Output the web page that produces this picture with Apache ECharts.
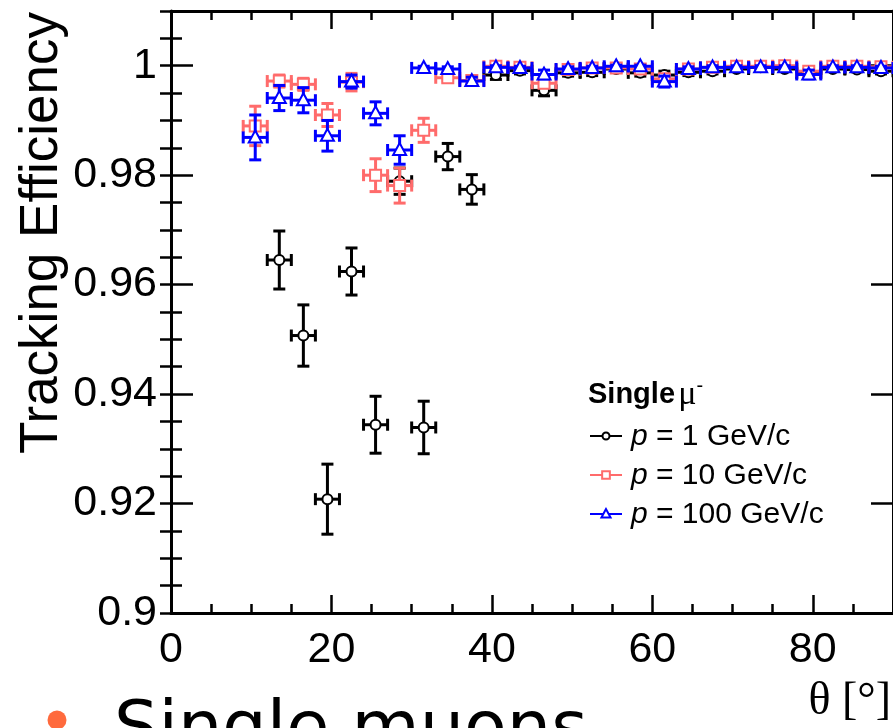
<!DOCTYPE html>
<html>
<head>
<meta charset="utf-8">
<script src="https://cdn.jsdelivr.net/npm/echarts/dist/echarts.min.js"></script>
<style>
  html, body { margin: 0; padding: 0; background: #fff; }
  #chart { width: 893px; height: 728px; }
</style>
</head>
<body>
<div id="chart"></div>
<script>
// Polar angle bin centres (degrees), bins are 3 degrees wide
const thetaCenters = [10.5, 13.5, 16.5, 19.5, 22.5, 25.5, 28.5, 31.5, 34.5, 37.5,
  40.5, 43.5, 46.5, 49.5, 52.5, 55.5, 58.5, 61.5, 64.5, 67.5,
  70.5, 73.5, 76.5, 79.5, 82.5, 85.5, 88.5];
const binHalfWidth = 1.5;

// p = 1 GeV/c
const effP1 = [null, 0.9645, 0.9507, 0.9208, 0.9624, 0.9344, 0.9789, 0.9339, 0.9834, 0.9774,
  0.9983, 0.9991, 0.9955, 0.9987, 0.9988, 0.9994, 0.9987, 0.9983, 0.9988, 0.9990,
  0.9994, 0.9997, 0.9994, 0.9987, 0.9994, 0.9993, 0.9990];
const errP1 = [null, 0.0053, 0.0056, 0.0064, 0.0043, 0.0052, 0.0024, 0.0048, 0.0024, 0.0027,
  0.0008, 0.0006, 0.0010, 0.0006, 0.0006, 0.0005, 0.0006, 0.0007, 0.0006, 0.0005,
  0.0004, 0.0003, 0.0004, 0.0006, 0.0004, 0.0004, 0.0005];

// p = 10 GeV/c
const effP10 = [0.9890, 0.9972, 0.9966, 0.9910, 0.9970, 0.9800, 0.9781, 0.9882, 0.9978, 0.9973,
  0.9999, 0.9997, 0.9968, 0.9993, 0.9996, 0.9996, 0.9994, 0.9976, 0.9994, 0.9997,
  0.9999, 0.9999, 1.0000, 0.9990, 0.9999, 0.9999, 0.9998];
const errP10 = [0.0036, 0.0011, 0.0011, 0.0021, 0.0016, 0.0030, 0.0032, 0.0022, 0.0006, 0.0007,
  0.0002, 0.0003, 0.0008, 0.0004, 0.0003, 0.0003, 0.0004, 0.0007, 0.0004, 0.0003,
  0.0002, 0.0002, 0.0002, 0.0005, 0.0002, 0.0002, 0.0002];

// p = 100 GeV/c
const effP100 = [0.9869, 0.9941, 0.9937, 0.9872, 0.9971, 0.9913, 0.9846, 0.9996, 0.9994, 0.9972,
  0.9997, 0.9996, 0.9984, 0.9994, 0.9996, 0.9999, 0.9999, 0.9971, 0.9994, 0.9997,
  0.9997, 0.9997, 0.9997, 0.9984, 0.9997, 0.9997, 0.9996];
const errP100 = [0.0041, 0.0023, 0.0023, 0.0028, 0.0012, 0.0021, 0.0026, 0.0003, 0.0004, 0.0007,
  0.0003, 0.0003, 0.0008, 0.0004, 0.0003, 0.0002, 0.0002, 0.0010, 0.0004, 0.0003,
  0.0003, 0.0003, 0.0003, 0.0008, 0.0003, 0.0003, 0.0003];

const seriesLabels = ['1 GeV/c', '10 GeV/c', '100 GeV/c'];
const seriesColors = ['#000000', '#ff6b6b', '#0000ff'];
const seriesMarkers = ['circle', 'square', 'triangle'];

const xTickMax = 90, yMin = 0.9, yMax = 1.01;

function markerShape(kind, cx, cy, color, scale) {
  const s = scale || 1;
  const style = { fill: '#fff', stroke: color, lineWidth: 2 };
  if (kind === 'circle') {
    return { type: 'circle', shape: { cx, cy, r: 5 * s }, style };
  }
  if (kind === 'square') {
    const h = 5.5 * s;
    return { type: 'rect', shape: { x: cx - h, y: cy - h, width: 2 * h, height: 2 * h }, style };
  }
  return {
    type: 'polygon',
    shape: { points: [[cx, cy - 7 * s], [cx - 6.5 * s, cy + 5 * s], [cx + 6.5 * s, cy + 5 * s]] },
    style
  };
}

function errorSeries(name, values, errors, color, marker, z) {
  const data = [];
  thetaCenters.forEach((t, i) => {
    if (values[i] != null) data.push([t, values[i], errors[i]]);
  });
  return {
    type: 'custom',
    name,
    xAxisIndex: 0,
    yAxisIndex: 0,
    z,
    data,
    encode: { x: 0, y: 1 },
    renderItem(params, api) {
      const x = api.value(0), y = api.value(1), e = api.value(2);
      const c = api.coord([x, y]);
      const l = api.coord([x - binHalfWidth, y]);
      const r = api.coord([x + binHalfWidth, y]);
      const top = api.coord([x, y + e]);
      const bot = api.coord([x, y - e]);
      const cap = 6;
      const ls = { stroke: color, lineWidth: 3 };
      const seg = (x1, y1, x2, y2) => ({ type: 'line', shape: { x1, y1, x2, y2 }, style: ls });
      return {
        type: 'group',
        children: [
          seg(l[0], c[1], r[0], c[1]),
          seg(l[0], c[1] - cap, l[0], c[1] + cap),
          seg(r[0], c[1] - cap, r[0], c[1] + cap),
          seg(c[0], top[1], c[0], bot[1]),
          seg(c[0] - cap, top[1], c[0] + cap, top[1]),
          seg(c[0] - cap, bot[1], c[0] + cap, bot[1]),
          markerShape(marker, c[0], c[1], color)
        ]
      };
    }
  };
}

const labelFont = { fontFamily: 'Liberation Sans', fontSize: 43, color: '#000' };
const frameLine = { show: true, onZero: false, lineStyle: { color: '#000', width: 3 } };
const tickLine = { color: '#000', width: 2.5 };

function xAxisDef(position, interval, tickLen, withLabels, showLine) {
  return {
    type: 'value', position, min: 0, max: xTickMax, interval,
    axisLine: showLine ? frameLine : { show: false },
    axisTick: { show: true, inside: true, length: tickLen, lineStyle: tickLine },
    axisLabel: withLabels ? Object.assign({ margin: 16, showMaxLabel: false }, labelFont) : { show: false },
    splitLine: { show: false }
  };
}
function yAxisDef(position, interval, tickLen, withLabels, showLine) {
  return {
    type: 'value', position, min: yMin, max: yMax, interval,
    axisLine: showLine ? frameLine : { show: false },
    axisTick: { show: true, inside: true, length: tickLen, lineStyle: tickLine },
    axisLabel: withLabels ? Object.assign({ margin: 14, showMaxLabel: false }, labelFont) : { show: false },
    splitLine: { show: false }
  };
}

// Legend block (drawn as graphic elements)
const legendX = 590, legendRows = [436, 475, 514];
const legendGraphics = [
  {
    type: 'text', x: 588, y: 395,
    style: {
      text: '{b|Single} {mu|μ}{sup|-}',
      verticalAlign: 'middle', textVerticalAlign: 'middle',
      rich: {
        b: { fontFamily: 'Liberation Sans', fontWeight: 'bold', fontSize: 29, fill: '#000' },
        mu: { fontFamily: 'Liberation Serif', fontSize: 34, fill: '#000' },
        sup: { fontFamily: 'Liberation Sans', fontSize: 20, fill: '#000', padding: [0, 0, 18, 0] }
      }
    }
  }
];
seriesLabels.forEach((lab, i) => {
  const y = legendRows[i];
  legendGraphics.push({
    type: 'line', shape: { x1: legendX, y1: y, x2: legendX + 32, y2: y },
    style: { stroke: seriesColors[i], lineWidth: 2 }
  });
  legendGraphics.push(markerShape(seriesMarkers[i], legendX + 16, y, seriesColors[i], 0.7));
  legendGraphics.push({
    type: 'text', x: 631, y: y + 1,
    style: {
      text: '{i|p} = ' + lab,
      font: '30px "Liberation Sans"', fill: '#000',
      verticalAlign: 'middle', textVerticalAlign: 'middle',
      rich: {
        i: { fontFamily: 'Liberation Sans', fontStyle: 'italic', fontSize: 30, fill: '#000' }
      }
    }
  });
});

const chart = echarts.init(document.getElementById('chart'), null, { renderer: 'canvas' });
chart.setOption({
  animation: false,
  backgroundColor: '#fff',
  grid: { left: 171, top: 11, width: 723, height: 602, containLabel: false },
  xAxis: [
    xAxisDef('bottom', 20, 18, true, true),
    xAxisDef('bottom', 5, 9, false, false),
    xAxisDef('top', 20, 18, false, true),
    xAxisDef('top', 5, 9, false, false)
  ],
  yAxis: [
    yAxisDef('left', 0.02, 22, true, true),
    yAxisDef('left', 0.005, 11, false, false),
    yAxisDef('right', 0.02, 22, false, true),
    yAxisDef('right', 0.005, 11, false, false)
  ],
  series: [
    errorSeries('p = 1 GeV/c', effP1, errP1, seriesColors[0], seriesMarkers[0], 2),
    errorSeries('p = 10 GeV/c', effP10, errP10, seriesColors[1], seriesMarkers[1], 3),
    errorSeries('p = 100 GeV/c', effP100, errP100, seriesColors[2], seriesMarkers[2], 4)
  ],
  graphic: [
    {
      type: 'text', x: 42, y: 233, rotation: Math.PI / 2,
      style: {
        text: 'Tracking Efficiency', font: '53px "Liberation Sans"', fill: '#000',
        align: 'center', verticalAlign: 'middle', textAlign: 'center', textVerticalAlign: 'middle'
      }
    },
    {
      type: 'text', x: 891, y: 702,
      style: {
        text: 'θ [°]', font: '46px "Liberation Serif"', fill: '#000',
        align: 'right', verticalAlign: 'middle', textAlign: 'right', textVerticalAlign: 'middle'
      }
    },
    { type: 'circle', shape: { cx: 57, cy: 720, r: 9.5 }, style: { fill: '#ff6a3d' } },
    {
      type: 'text', x: 114, y: 732,
      style: {
        text: 'Single muons', font: '70px "DejaVu Sans"', fill: '#000',
        verticalAlign: 'middle', textVerticalAlign: 'middle'
      }
    }
  ].concat(legendGraphics)
});
</script>
</body>
</html>
